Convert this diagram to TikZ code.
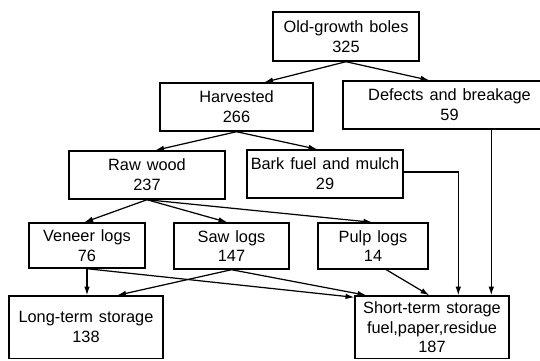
\documentclass[tikz,border=0pt]{standalone}
\usepackage{fontspec}
\setmainfont{Liberation Sans}[WordSpace=1.3]
\usetikzlibrary{arrows.meta,calc}
\begin{document}
\begin{tikzpicture}[x=0.02cm,y=-0.02cm,
  box/.style={draw,line width=0.8pt,inner sep=0pt,align=center,
    font=\fontsize{9.3}{11.3}\selectfont},
  wh/.style 2 args={minimum width=#1*0.02cm,minimum height=#2*0.02cm},
  flow/.style={line width=0.7pt,-{Latex[length=5pt,width=3.2pt]}}]
\useasboundingbox (0,0) rectangle (540,360);
\fill[white] (0,0) rectangle (540,360);

\node[box,wh={146}{49}] (old) at (346,36.5) {Old-growth boles\\325};
\node[box,wh={153}{48}] (harv) at (236.5,107) {Harvested\\266};
\node[box,wh={213}{48}] (def) at (449.5,105) {Defects and breakage\\59};
\node[box,wh={156}{48}] (raw) at (147,175) {Raw wood\\237};
\node[box,wh={156}{48}] (bark) at (325,174) {Bark fuel and mulch\\29};
\node[box,wh={116}{45}] (ven) at (87,245.5) {Veneer logs\\76};
\node[box,wh={115}{46}] (saw) at (231.5,246) {Saw logs\\147};
\node[box,wh={110}{46}] (pulp) at (373,246) {Pulp logs\\14};
\node[box,wh={154}{62.5}] (long) at (86,327.25) {Long-term storage\\138};
\node[box,wh={154}{62.5}] (short) at (432,327.25) {Short-term storage\\fuel,paper,residue\\187};

\draw[flow] (old.south) -- ($(harv.north west)+(105,0)$);
\draw[flow] (old.south) -- ($(def.north west)+(87,0)$);
\draw[flow] (harv.south) -- ($(raw.north west)+(87,0)$);
\draw[flow] (harv.south) -- ($(bark.north west)+(71,0)$);
\draw[flow] (raw.south) -- ($(ven.north west)+(56,0)$);
\draw[flow] (raw.south) -- ($(saw.north west)+(54,0)$);
\draw[flow] (raw.south) -- ($(pulp.north west)+(55,0)$);
\draw[flow] (ven.south) -- (ven.south |- long.north);
\draw[flow] (ven.south) -- ($(short.north west)+(0,2)$);
\draw[flow] (saw.south) -- ($(long.north west)+(109,0)$);
\draw[flow] (saw.south) -- ($(short.north west)+(12,0)$);
\draw[flow] ($(pulp.south west)+(69,0)$) -- ($(short.north west)+(75,0)$);
\draw[flow] ([yshift=0.04cm]bark.east) -| ($(short.north west)+(104,0)$);
\draw[flow] ($(def.south west)+(149,0)$) coordinate (d1) -- (d1 |- short.north);
\end{tikzpicture}
\end{document}
